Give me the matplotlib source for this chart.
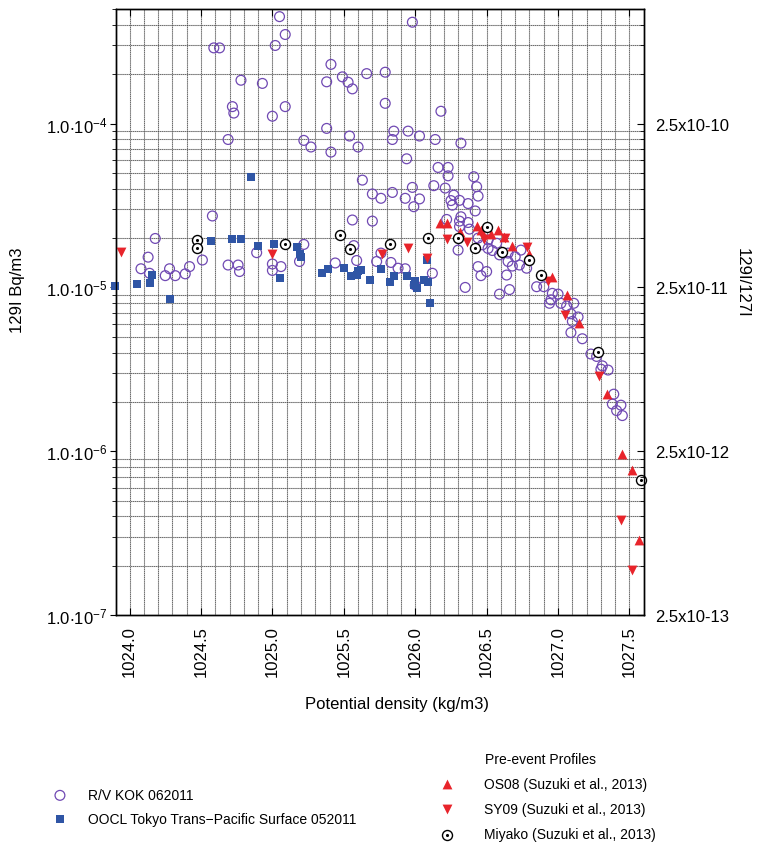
import matplotlib
matplotlib.use("Agg")
import matplotlib.pyplot as plt
from matplotlib.ticker import FixedLocator, NullFormatter, NullLocator
import numpy as np

plt.rcParams['font.family'] = ['Liberation Sans', 'DejaVu Sans']
plt.rcParams['mathtext.fontset'] = 'custom'
plt.rcParams['mathtext.rm'] = 'Liberation Sans'
plt.rcParams['mathtext.default'] = 'regular'

# R/V KOK 062011 (open circles)
kok_x = [1025.05, 1025.09, 1025.02, 1024.59, 1024.63, 1025.41, 1024.78, 1024.93, 1025.38, 1025.49,
         1025.53, 1025.56, 1024.72, 1024.73, 1025.09, 1025.00, 1024.69, 1025.22, 1025.27, 1025.38,
         1025.41, 1025.54, 1025.60, 1025.98, 1025.66, 1025.79, 1025.79, 1026.18, 1025.85, 1025.84,
         1025.95, 1026.03, 1026.14, 1026.32, 1025.94, 1026.16, 1026.23, 1026.23, 1026.41, 1026.43,
         1026.44, 1026.42, 1025.63, 1025.70, 1025.76, 1025.84, 1025.98, 1025.93, 1025.99, 1026.03,
         1026.13, 1026.21, 1026.27, 1026.25, 1026.26, 1026.31, 1026.37, 1025.56, 1025.70, 1026.22,
         1026.32, 1026.31, 1026.37, 1026.31, 1026.38, 1026.30, 1026.44, 1026.47, 1026.51, 1026.51,
         1026.57, 1026.54, 1026.44, 1026.46, 1026.50, 1026.35, 1026.59, 1026.65, 1026.65, 1026.70,
         1026.68, 1026.73, 1026.78, 1026.74, 1026.64, 1026.59, 1026.66, 1026.85, 1026.90, 1026.96,
         1026.95, 1027.00, 1027.02, 1027.06, 1027.11, 1027.09, 1027.14, 1027.10, 1027.09, 1027.17,
         1026.94, 1027.23, 1027.27, 1027.31, 1027.35, 1027.30, 1027.39, 1027.38, 1027.44, 1027.41,
         1027.45, 1024.58, 1024.18, 1024.13, 1024.08, 1024.14, 1024.25, 1024.28, 1024.32, 1024.39,
         1024.42, 1024.51, 1024.69, 1024.76, 1024.77, 1024.89, 1025.00, 1025.00, 1025.06, 1025.19,
         1025.22, 1025.44, 1025.57, 1025.59, 1025.73, 1025.76, 1025.83, 1025.88, 1025.93, 1026.12,
         1026.00]
kok_y = [4.5e-4, 3.5e-4, 3.0e-4, 2.9e-4, 2.9e-4, 2.3e-4, 1.84e-4, 1.76e-4, 1.8e-4, 1.93e-4,
         1.79e-4, 1.63e-4, 1.27e-4, 1.16e-4, 1.27e-4, 1.11e-4, 8.0e-5, 7.9e-5, 7.2e-5, 9.35e-5,
         6.7e-5, 8.4e-5, 7.2e-5, 4.16e-4, 2.02e-4, 2.06e-4, 1.33e-4, 1.19e-4, 9.0e-5, 8.0e-5,
         9.0e-5, 8.4e-5, 8.0e-5, 7.6e-5, 6.1e-5, 5.4e-5, 5.4e-5, 4.8e-5, 4.74e-5, 4.12e-5,
         3.61e-5, 2.93e-5, 4.52e-5, 3.72e-5, 3.5e-5, 3.8e-5, 4.08e-5, 3.5e-5, 3.11e-5, 3.47e-5,
         4.18e-5, 4.04e-5, 3.66e-5, 3.39e-5, 3.18e-5, 3.4e-5, 3.25e-5, 2.58e-5, 2.54e-5, 2.6e-5,
         2.7e-5, 2.54e-5, 2.49e-5, 2.35e-5, 2.27e-5, 1.69e-5, 2.0e-5, 1.82e-5, 1.73e-5, 1.95e-5,
         1.86e-5, 1.68e-5, 1.34e-5, 1.18e-5, 1.25e-5, 1.0e-5, 1.58e-5, 1.44e-5, 1.62e-5, 1.54e-5,
         1.35e-5, 1.37e-5, 1.31e-5, 1.69e-5, 1.19e-5, 9.1e-6, 9.7e-6, 1.01e-5, 1.01e-5, 9.2e-6,
         8.4e-6, 9.1e-6, 8.0e-6, 7.7e-6, 8.0e-6, 6.9e-6, 6.6e-6, 6.2e-6, 5.3e-6, 4.86e-6,
         8.0e-6, 3.92e-6, 3.79e-6, 3.32e-6, 3.13e-6, 3.17e-6, 2.23e-6, 1.94e-6, 1.91e-6, 1.77e-6,
         1.65e-6, 2.73e-5, 1.99e-5, 1.53e-5, 1.30e-5, 1.22e-5, 1.18e-5, 1.30e-5, 1.18e-5, 1.21e-5,
         1.34e-5, 1.47e-5, 1.37e-5, 1.37e-5, 1.25e-5, 1.63e-5, 1.39e-5, 1.27e-5, 1.34e-5, 1.44e-5,
         1.83e-5, 1.41e-5, 1.80e-5, 1.46e-5, 1.44e-5, 1.62e-5, 1.42e-5, 1.31e-5, 1.30e-5, 1.22e-5,
         1.03e-5]

# OOCL Tokyo Trans-Pacific Surface 052011 (squares)
oocl_x = [1023.90, 1024.05, 1024.14, 1024.16, 1024.28, 1024.57, 1024.72, 1024.78, 1024.85, 1024.90,
          1025.01, 1025.05, 1025.17, 1025.19, 1025.20, 1025.35, 1025.39, 1025.50, 1025.55, 1025.59,
          1025.60, 1025.62, 1025.68, 1025.76, 1025.82, 1025.85, 1025.94, 1025.99, 1026.01, 1026.00,
          1026.06, 1026.09, 1026.08, 1026.10]
oocl_y = [1.025e-5, 1.05e-5, 1.06e-5, 1.19e-5, 8.5e-6, 1.92e-5, 1.97e-5, 1.97e-5, 4.7e-5, 1.8e-5,
          1.83e-5, 1.14e-5, 1.76e-5, 1.6e-5, 1.53e-5, 1.22e-5, 1.3e-5, 1.31e-5, 1.175e-5, 1.19e-5,
          1.265e-5, 1.27e-5, 1.11e-5, 1.30e-5, 1.076e-5, 1.175e-5, 1.175e-5, 1.035e-5, 0.997e-5, 1.09e-5,
          1.11e-5, 1.076e-5, 1.47e-5, 8.0e-6]

# OS08 (Suzuki et al., 2013)
os08_x = [1026.17, 1026.22, 1026.31, 1026.43, 1026.46, 1026.53, 1026.58, 1026.62, 1026.68, 1026.80,
          1026.96, 1027.06, 1027.15, 1027.34, 1027.45, 1027.52, 1027.57]
os08_y = [2.48e-5, 2.48e-5, 2.18e-5, 2.38e-5, 2.24e-5, 2.11e-5, 2.24e-5, 2.02e-5, 1.80e-5, 1.60e-5,
          1.153e-5, 9.0e-6, 6.05e-6, 2.23e-6, 9.66e-7, 7.7e-7, 2.88e-7]

# SY09 (Suzuki et al., 2013)
sy09_x = [1023.94, 1025.00, 1025.77, 1025.95, 1026.08, 1026.22, 1026.36, 1026.48, 1026.63, 1026.78,
          1026.93, 1027.05, 1027.29, 1027.44, 1027.52]
sy09_y = [1.65e-5, 1.6e-5, 1.61e-5, 1.74e-5, 1.52e-5, 1.97e-5, 1.89e-5, 1.98e-5, 2.0e-5, 1.76e-5,
          1.1e-5, 6.8e-6, 2.88e-6, 3.79e-7, 1.87e-7]

# Miyako (Suzuki et al., 2013)
miy_x = [1024.47, 1024.47, 1025.09, 1025.47, 1025.54, 1025.82, 1026.09, 1026.30, 1026.42, 1026.50,
         1026.61, 1026.80, 1026.88, 1027.28, 1027.58]
miy_y = [1.95e-5, 1.75e-5, 1.84e-5, 2.08e-5, 1.71e-5, 1.83e-5, 2.0e-5, 2.0e-5, 1.73e-5, 2.35e-5,
         1.65e-5, 1.47e-5, 1.19e-5, 4.06e-6, 6.7e-7]

x_ticks = [1024.0, 1024.5, 1025.0, 1025.5, 1026.0, 1026.5, 1027.0, 1027.5]
y_ticks = [1e-7, 1e-6, 1e-5, 1e-4]
y_labels = [r'1.0$\cdot$10$^{-7}$', r'1.0$\cdot$10$^{-6}$', r'1.0$\cdot$10$^{-5}$', r'1.0$\cdot$10$^{-4}$']
ratio_labels = ['2.5x10-13', '2.5x10-12', '2.5x10-11', '2.5x10-10']

purple = '#7049b3'
blue = '#2f55a5'
red = '#e8242b'

fig = plt.figure(figsize=(7.6, 8.45), dpi=100)
ax = fig.add_axes([0.1526, 0.271, 0.6954, 0.717])
ax.set_yscale('log')
ax.set_xlim(1023.905, 1027.605)
ax.set_ylim(1e-7, 5e-4)

# grid: every 0.1 in x, minor decades only in y (gray line with dotted overlay)
for gx in np.arange(1024.0, 1027.55, 0.1):
    ax.axvline(gx, color='#b4b4b4', lw=0.8, zorder=0)
    ax.axvline(gx, color='#222222', lw=0.5, ls=(0, (1, 2)), zorder=0.5)
for dec in [1e-7, 1e-6, 1e-5, 1e-4]:
    for m in range(2, 10):
        gy = m * dec
        if gy < 5e-4:
            ax.axhline(gy, color='#b4b4b4', lw=0.8, zorder=0)
            ax.axhline(gy, color='#222222', lw=0.5, ls=(0, (1, 2)), zorder=0.5)

s_kok = ax.scatter(kok_x, kok_y, s=50, marker='o', facecolors='none', edgecolors=purple,
                   linewidths=0.9, zorder=3, clip_on=False)
s_oocl = ax.scatter(oocl_x, oocl_y, s=26, marker='s', color=blue, linewidths=0, zorder=3, clip_on=False)
s_os = ax.scatter(os08_x, os08_y, s=50, marker='^', color=red, linewidths=0, zorder=4, clip_on=False)
s_sy = ax.scatter(sy09_x, sy09_y, s=50, marker='v', color=red, linewidths=0, zorder=4, clip_on=False)
s_my1 = ax.scatter(miy_x, miy_y, s=52, marker='o', facecolors='white', edgecolors='black',
                   linewidths=1.0, zorder=5, clip_on=False)
s_my2 = ax.scatter(miy_x, miy_y, s=5, marker='o', color='black', linewidths=0, zorder=6, clip_on=False)

# x axis
ax.xaxis.set_major_locator(FixedLocator(x_ticks))
ax.set_xticklabels(['%.1f' % v for v in x_ticks], rotation=90, fontsize=12)
ax.xaxis.set_minor_locator(NullLocator())
ax.tick_params(axis='x', which='major', direction='in', top=True, length=5, width=0.8, pad=7)

# left y axis
ax.yaxis.set_major_locator(FixedLocator(y_ticks))
ax.set_yticklabels(y_labels, fontsize=12)
ax.yaxis.set_minor_formatter(NullFormatter())
ax.tick_params(axis='y', which='major', direction='out', length=4, width=0.8, pad=2)
ax.tick_params(axis='y', which='minor', direction='out', length=3, width=0.6)

# right y axis (129I/127I)
ax2 = ax.twinx()
ax2.set_yscale('log')
ax2.set_ylim(ax.get_ylim())
ax2.yaxis.set_major_locator(FixedLocator(y_ticks))
ax2.set_yticklabels(ratio_labels, fontsize=12)
ax2.yaxis.set_minor_formatter(NullFormatter())
ax2.tick_params(axis='y', which='major', direction='in', length=5, width=0.8, pad=8)
ax2.tick_params(axis='y', which='minor', direction='in', length=3, width=0.6)

for a in (ax, ax2):
    for sp in a.spines.values():
        sp.set_linewidth(1.0)

fig.text(305 / 760, 1 - 705 / 845, 'Potential density (kg/m3)', fontsize=12, va='center', ha='left')
fig.text(18 / 760, 1 - 290 / 845, '129I Bq/m3', fontsize=12, rotation=90, va='center', ha='center')
fig.text(742 / 760, 1 - 283 / 845, '129I/127I', fontsize=12, rotation=270, va='center', ha='center')

# legends
leg1 = fig.legend([s_kok, s_oocl], ['R/V KOK 062011', 'OOCL Tokyo Trans\u2212Pacific Surface 052011'],
                  loc='upper left', bbox_to_anchor=(53 / 760, 1 - 789 / 845), frameon=False,
                  fontsize=10, handlelength=1.0, handletextpad=1.5, labelspacing=0.72,
                  borderpad=0, borderaxespad=0, scatterpoints=1)
leg2 = fig.legend([s_os, s_sy, (s_my1, s_my2)],
                  ['OS08 (Suzuki et al., 2013)', 'SY09 (Suzuki et al., 2013)', 'Miyako (Suzuki et al., 2013)'],
                  loc='upper left', bbox_to_anchor=(440 / 760, 1 - 778 / 845), frameon=False,
                  fontsize=10, handlelength=1.0, handletextpad=2.2, labelspacing=0.8,
                  borderpad=0, borderaxespad=0, scatterpoints=1)
fig.text(485 / 760, 1 - 760 / 845, 'Pre-event Profiles', fontsize=10, va='center', ha='left')

fig.savefig('out.png', dpi=100)
